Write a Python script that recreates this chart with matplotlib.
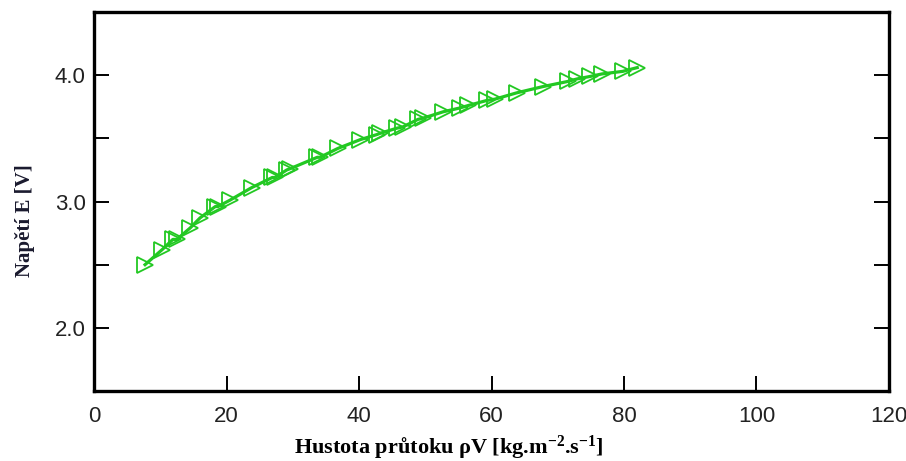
import matplotlib
matplotlib.use("Agg")
import matplotlib.pyplot as plt
from matplotlib.ticker import MultipleLocator

# hustota prutoku [kg.m-2.s-1] a napeti [V]
hustota = [7.7, 10.3, 11.9, 12.5, 14.5, 16.0, 18.3, 18.7, 20.5, 23.8,
           26.9, 27.3, 29.1, 29.6, 33.7, 34.1, 36.8, 40.2, 42.7, 43.2,
           45.7, 46.6, 48.9, 49.7, 52.7, 55.2, 56.5, 59.3, 60.5, 63.8,
           67.8, 71.5, 72.9, 74.9, 76.7, 79.8, 82.0]
napeti = [2.50, 2.62, 2.70, 2.70, 2.79, 2.87, 2.96, 2.96, 3.01, 3.11,
          3.19, 3.19, 3.25, 3.26, 3.35, 3.35, 3.42, 3.49, 3.53, 3.54,
          3.58, 3.59, 3.65, 3.66, 3.71, 3.74, 3.76, 3.80, 3.81, 3.86,
          3.91, 3.95, 3.97, 3.99, 4.01, 4.03, 4.06]
xticks = [0, 20, 40, 60, 80, 100, 120]
yticks = [2.0, 3.0, 4.0]

plt.rcParams['mathtext.fontset'] = 'custom'
plt.rcParams['mathtext.rm'] = 'Liberation Serif:bold'
plt.rcParams['mathtext.it'] = 'Liberation Serif:bold'
plt.rcParams['mathtext.bf'] = 'Liberation Serif:bold'

fig = plt.figure(figsize=(9.06, 4.61), dpi=100)
ax = fig.add_axes([0.1038, 0.1518, 0.8774, 0.8222])

zelena = '#22c822'
ax.plot(hustota, napeti, color=zelena, lw=2.3, marker='>', markersize=12,
        markerfacecolor='none', markeredgecolor=zelena, markeredgewidth=1.3)

ax.set_xlim(0, 120)
ax.set_ylim(1.5, 4.5)
ax.set_xticks(xticks)
ax.set_yticks(yticks)
ax.set_yticklabels(['%.1f' % v for v in yticks])
ax.yaxis.set_minor_locator(MultipleLocator(0.5))

for s in ax.spines.values():
    s.set_linewidth(2.4)

ax.tick_params(which='both', direction='in', length=11, width=1.4,
               right=True, top=False, labelsize=16, pad=6)
ax.tick_params(axis='x', pad=11)
for lab in ax.get_xticklabels() + ax.get_yticklabels():
    lab.set_family('Liberation Sans')
    lab.set_color('#222222')

ax.set_xlabel(r'Hustota průtoku ρV [kg.m$^{\mathregular{-2}}$.s$^{\mathregular{-1}}$]',
              family='Liberation Serif', fontweight='bold', fontsize=16)
ax.set_ylabel('Napětí E [V]', family='Liberation Serif', fontweight='bold',
              fontsize=15, color='#1a1a2e')
ax.xaxis.set_label_coords(0.446, -0.112)
ax.yaxis.set_label_coords(-0.074, 0.45)

fig.savefig('out.png', dpi=100)
